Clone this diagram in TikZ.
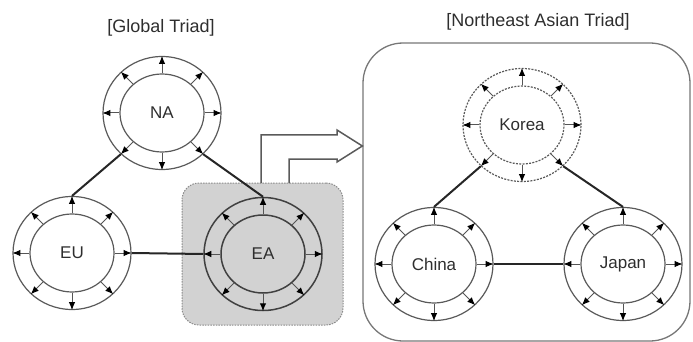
\documentclass[tikz,border=0pt]{standalone}
\usepackage{fontspec}
\setmainfont{Liberation Sans}
\usetikzlibrary{shapes.geometric,arrows.meta}
\definecolor{ringc}{HTML}{5A5A5A}
\definecolor{spokec}{HTML}{555555}
\definecolor{txtc}{HTML}{2E2E2E}
\definecolor{boxfill}{HTML}{D2D2D2}
\definecolor{boxline}{HTML}{8A8A8A}
\definecolor{frame}{HTML}{777777}
\newcommand{\hubnode}[5]{%
  \node[ring,#5] (#1) at (#2,#3) {};
  \node[core,#5] (#1c) at (#2,#3) {#4};
  \foreach \a in {0,45,...,315} \draw[spoke] (#1c.\a) -- (#1.\a);
}
\begin{document}
\begin{tikzpicture}[x=1pt,y=-1pt,
  ring/.style={ellipse, draw=ringc, line width=1.2pt, minimum width=118pt, minimum height=113pt, inner sep=0pt},
  core/.style={ellipse, draw=ringc, line width=1.2pt, minimum width=84pt, minimum height=78pt, inner sep=0pt, font=\fontsize{17}{19}\selectfont, text=txtc},
  spoke/.style={draw=spokec, line width=1pt, -{Latex[length=8pt,width=6.5pt,color=black]}},
  link/.style={draw=black!85, line width=2pt},
  dashring/.style={dash pattern=on 2pt off 1.3pt},
  darkring/.style={draw=black!75, line width=1.5pt},
  title/.style={font=\fontsize{18}{21}\selectfont, text=txtc},
  bentarrow/.style={draw=ringc, line width=1.5pt, line join=miter}
]
\useasboundingbox (0,0) rectangle (693,342);
% frames
\node[draw=frame, line width=1.3pt, rounded corners=40pt, minimum width=327pt, minimum height=298pt, inner sep=0pt] (right) at (526.5,192) {};
\node[draw=boxline, fill=boxfill, dash pattern=on 1.5pt off 1.2pt, line width=1pt, rounded corners=17pt, minimum width=161pt, minimum height=142pt, inner sep=0pt] (eabox) at (262.5,254) {};
% titles
\node[title] (t1) at (161,28) {[Global Triad]};
\node[title] (t2) at (538,22) {[Northeast Asian Triad]};
% hubs
\hubnode{NA}{162}{113}{NA}{}
\hubnode{EU}{72}{253}{EU}{}
\hubnode{EA}{263}{254}{EA}{darkring}
\hubnode{KO}{522}{125}{Korea}{dashring}
\hubnode{CN}{434}{264}{China}{}
\hubnode{JP}{623}{264}{Japan}{}
% links
\draw[link] (NA.225) -- (EU.90);
\draw[link] (NA.315) -- (EA.90);
\draw[link] (EU.0) -- (EA.180);
\draw[link] (KO.225) -- (CN.90);
\draw[link] (KO.315) -- (JP.90);
\draw[link] (CN.0) -- (JP.180);
% hollow bent arrow
\coordinate (a1) at (261,183);
\coordinate (a2) at (289,183);
\coordinate (tip) at (right.west |- 0,146);
\draw[bentarrow] (a1) -- (261,135) -- (337,135) -- (337,130) -- (tip) -- (337,162) -- (337,159) -- (289,159) -- (a2);
\end{tikzpicture}
\end{document}
